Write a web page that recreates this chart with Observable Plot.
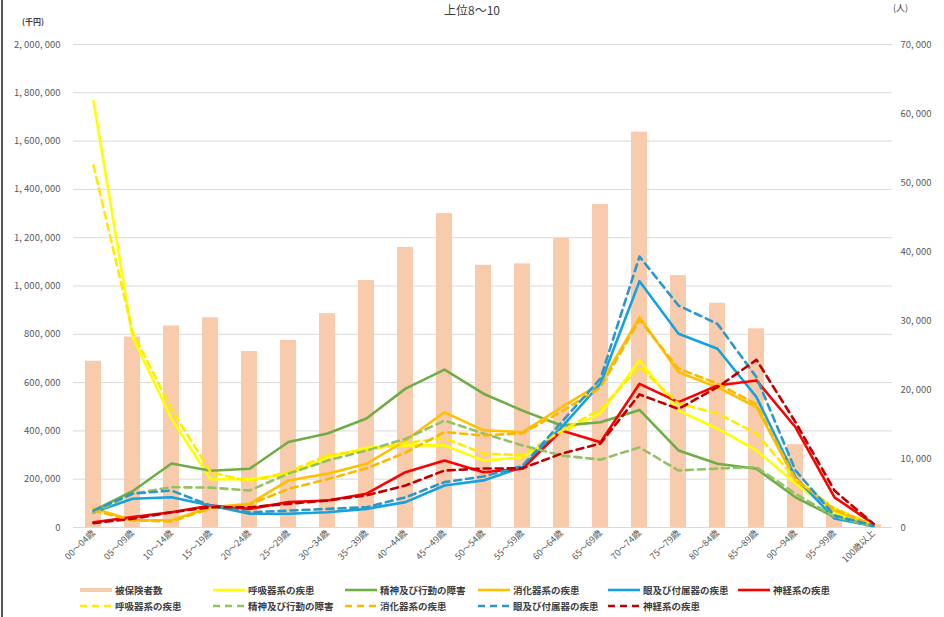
<!DOCTYPE html>
<html><head><meta charset="utf-8">
<script src="https://cdn.jsdelivr.net/npm/d3@7"></script>
<script src="https://cdn.jsdelivr.net/npm/@observablehq/plot@0.6"></script>
<style>
body{margin:0;background:#fff;font-family:"Noto Sans CJK JP","Noto Sans",sans-serif;}
#wrap{position:relative;width:944px;height:617px;overflow:hidden;background:#fff;}
#chart{position:absolute;left:0;top:0;}
#title{position:absolute;left:0;width:944px;text-align:center;top:2px;line-height:16px;font-size:12px;color:#404040;}
#unitL{position:absolute;left:22px;top:16px;font-size:8px;color:#404040;font-weight:bold;}
#unitR{position:absolute;left:893px;top:2px;line-height:12px;font-size:9px;color:#404040;}
#border{position:absolute;left:1px;top:0;width:2px;height:617px;background:#555;}
.lg{position:absolute;display:flex;align-items:center;font-size:9.5px;color:#404040;white-space:nowrap;font-weight:bold;}
.lg svg{margin-right:3px;}
</style></head><body>
<div id="wrap">
  <div id="chart"></div>
  <div id="title">上位8～10</div>
  <div id="unitL">(千円)</div>
  <div id="unitR">(人)</div>
  <div id="legend"></div>
  <div id="border"></div>
</div>
<script>
// ---- data ----
const ages = ["00～04歳","05～09歳","10～14歳","15～19歳","20～24歳","25～29歳","30～34歳","35～39歳","40～44歳","45～49歳","50～54歳","55～59歳","60～64歳","65～69歳","70～74歳","75～79歳","80～84歳","85～89歳","90～94歳","95～99歳","100歳以上"];
// 被保険者数 (人, right axis)
const insured = [24100,27600,29200,30400,25500,27100,31000,35800,40600,45500,38000,38200,41900,46800,57300,36500,32500,28800,12000,2500,400];
// 医療費 (千円, left axis) — solid series
const respiratory = [1765000,790000,450000,200000,200000,220000,290000,330000,340000,340000,277000,291000,395000,472000,692000,484000,409000,319000,182000,60000,10000];
const mental      = [70000,150000,265000,235000,243000,354000,389000,451000,575000,654000,554000,484000,422000,436000,487000,319000,264000,243000,125000,43000,8000];
const digestive   = [80000,30000,30000,84000,98000,195000,223000,264000,360000,477000,402000,395000,498000,596000,871000,643000,581000,498000,195000,70000,10000];
const eye         = [63000,119000,125000,91000,57000,57000,63000,77000,105000,174000,195000,250000,415000,596000,1020000,802000,740000,540000,208000,37000,5000];
const nervous     = [22000,43000,63000,91000,77000,105000,112000,140000,229000,277000,229000,243000,402000,353000,595000,519000,588000,609000,415000,125000,15000];
// dashed series
const respiratory2 = [1500000,810000,490000,230000,190000,230000,300000,320000,350000,370000,306000,300000,400000,490000,664000,513000,472000,389000,200000,80000,10000];
const mental2      = [60000,140000,167000,165000,153000,223000,277000,319000,367000,443000,389000,340000,298000,281000,332000,236000,244000,250000,140000,45000,5000];
const digestive2   = [70000,30000,25000,80000,95000,160000,200000,245000,310000,395000,381000,390000,480000,580000,860000,658000,596000,510000,200000,75000,10000];
const eye2         = [70000,140000,153000,91000,63000,70000,77000,84000,125000,188000,211000,255000,436000,617000,1122000,919000,843000,622000,236000,50000,8000];
const nervous2     = [18000,36000,63000,84000,84000,98000,112000,133000,174000,236000,244000,245000,306000,348000,551000,491000,581000,694000,436000,153000,15000];

const leftTicks = [0,200000,400000,600000,800000,1000000,1200000,1400000,1600000,1800000,2000000];
const rightTicks = [0,10000,20000,30000,40000,50000,60000,70000];

// ---- build ----
const k = 2000000 / 70000; // right axis -> left axis
const fmt = v => d3.format(",")(v).replace(/,/g, ", ");
const barData = ages.map((a, i) => ({age: a, pop: insured[i]}));

const series = [
  {name: "呼吸器系の疾患", vals: respiratory, color: "#FFFF00", dash: null},
  {name: "精神及び行動の障害", vals: mental, color: "#70AD47", dash: null},
  {name: "消化器系の疾患", vals: digestive, color: "#FFC000", dash: null},
  {name: "眼及び付属器の疾患", vals: eye, color: "#14A3DE", dash: null},
  {name: "神経系の疾患", vals: nervous, color: "#FF0000", dash: null},
  {name: "呼吸器系の疾患", vals: respiratory2, color: "#FFEB00", dash: "7,5"},
  {name: "精神及び行動の障害", vals: mental2, color: "#93C263", dash: "7,5"},
  {name: "消化器系の疾患", vals: digestive2, color: "#F7BA00", dash: "7,5"},
  {name: "眼及び付属器の疾患", vals: eye2, color: "#2E97C6", dash: "7,5"},
  {name: "神経系の疾患", vals: nervous2, color: "#C00000", dash: "7,5"}
];

const lineMarks = series.map(s => Plot.line(ages.map((a, i) => ({age: a, v: s.vals[i]})), {
  x: "age", y: "v", stroke: s.color, strokeWidth: 2.6,
  strokeDasharray: s.dash ?? undefined, strokeLinejoin: "round"
}));

const chart = Plot.plot({
  width: 944, height: 580,
  marginLeft: 73, marginRight: 52, marginTop: 44, marginBottom: 53,
  style: {fontFamily: '"Noto Sans CJK JP","Noto Sans",sans-serif', fontSize: "9.5px", color: "#595959", background: "transparent"},
  x: {domain: ages, paddingInner: 0.59, paddingOuter: 0.295, label: null},
  y: {domain: [0, 2000000], label: null},
  marks: [
    Plot.gridY(leftTicks, {stroke: "#D9D9D9", strokeOpacity: 1, strokeWidth: 1}),
    Plot.axisY(leftTicks, {anchor: "left", tickSize: 0, tickPadding: 13, tickFormat: fmt, label: null}),
    Plot.axisY(rightTicks.map(v => v * k), {anchor: "right", tickSize: 0, tickPadding: 8, tickFormat: v => fmt(Math.round(v / k)), label: null}),
    Plot.axisX({tickRotate: -45, tickSize: 0, tickPadding: 4, label: null, fontSize: 9}),
    Plot.barY(barData, {x: "age", y: d => d.pop * k, fill: "#F8CBAD"}),
    Plot.ruleY([0], {stroke: "#D9D9D9"}),
    ...lineMarks
  ]
});
document.getElementById("chart").appendChild(chart);

// ---- legend ----
const legendItems = [
  {label: "被保険者数", type: "bar", color: "#F8CBAD", x: 80, y: 590},
  {label: "呼吸器系の疾患", s: 0, x: 213, y: 590},
  {label: "精神及び行動の障害", s: 1, x: 345, y: 590},
  {label: "消化器系の疾患", s: 2, x: 478, y: 590},
  {label: "眼及び付属器の疾患", s: 3, x: 608, y: 590},
  {label: "神経系の疾患", s: 4, x: 738, y: 590},
  {label: "呼吸器系の疾患", s: 5, x: 80, y: 606},
  {label: "精神及び行動の障害", s: 6, x: 213, y: 606},
  {label: "消化器系の疾患", s: 7, x: 345, y: 606},
  {label: "眼及び付属器の疾患", s: 8, x: 478, y: 606},
  {label: "神経系の疾患", s: 9, x: 608, y: 606}
];
const lg = document.getElementById("legend");
for (const it of legendItems) {
  const div = document.createElement("div");
  div.className = "lg";
  div.style.left = it.x + "px";
  div.style.top = (it.y - 7) + "px";
  let sw;
  if (it.type === "bar") {
    sw = `<svg width="32" height="10"><line x1="0" x2="32" y1="5" y2="5" stroke="${it.color}" stroke-width="4"/></svg>`;
  } else {
    const s = series[it.s];
    sw = `<svg width="32" height="10"><line x1="0" x2="32" y1="5" y2="5" stroke="${s.color}" stroke-width="2.6" ${s.dash ? `stroke-dasharray="${s.dash}"` : ""}/></svg>`;
  }
  div.innerHTML = sw + `<span>${it.label}</span>`;
  lg.appendChild(div);
}
</script>
</body></html>
